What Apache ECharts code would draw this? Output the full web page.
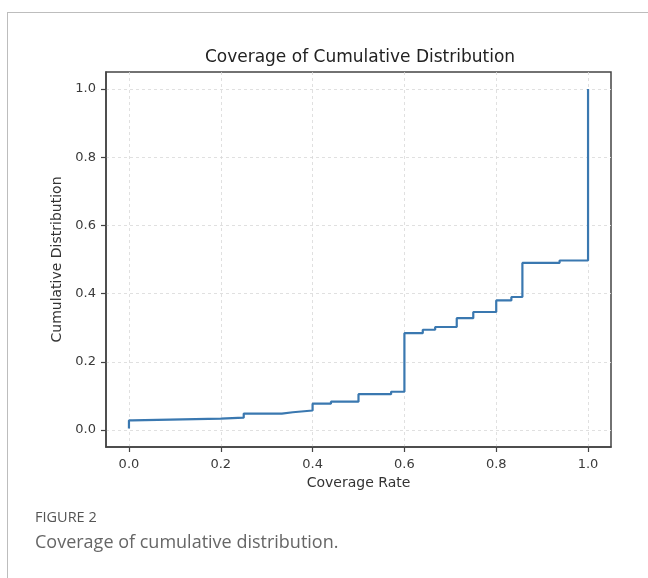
<!DOCTYPE html>
<html>
<head>
<meta charset="utf-8">
<script src="https://cdn.jsdelivr.net/npm/echarts@6/dist/echarts.min.js"></script>
<style>
  html, body { margin: 0; padding: 0; background: #fff; }
  #frame { position: absolute; left: 7px; top: 12px; width: 700px; height: 700px;
           border: 1px solid #bdbdbd; box-sizing: border-box; }
  #chart { position: absolute; left: 0; top: 0; width: 648px; height: 578px; }
  .fig { position: absolute; left: 35px; font-family: "Open Sans", "Noto Sans", sans-serif; color: #555; }
  #figno { top: 507px; font-size: 14.5px; }
  #caption { top: 529px; font-size: 18px; color: #666; }
</style>
</head>
<body>
<div id="frame"></div>
<div id="chart"></div>
<div class="fig" id="figno">FIGURE 2</div>
<div class="fig" id="caption">Coverage of cumulative distribution.</div>
<script>
// step points of the empirical CDF (x = coverage rate, y = cumulative share)
const coverage = [0, 0, 0.007, 0.2, 0.25, 0.333, 0.357, 0.4, 0.44, 0.5, 0.571, 0.6, 0.64, 0.667, 0.714, 0.75, 0.8, 0.833, 0.857, 0.938, 1.0];
const cumulative = [0.004, 0.028, 0.033, 0.036, 0.048, 0.052, 0.057, 0.077, 0.083, 0.105, 0.112, 0.284, 0.294, 0.302, 0.328, 0.346, 0.38, 0.39, 0.49, 0.497, 1.0];
const tickValues = [0, 0.2, 0.4, 0.6, 0.8, 1.0];

const chart = echarts.init(document.getElementById('chart'), null, { renderer: 'canvas' });
const font = 'DejaVu Sans';
const fmt = v => v.toFixed(1);

function axisCommon(name, gap, labelMargin){
  return {
    type: 'value', min: -0.05, max: 1.05,
    name, nameLocation: 'middle', nameGap: gap,
    nameTextStyle: { fontFamily: font, fontSize: 14, color: '#333' },
    axisLine: { show: true, onZero: false, lineStyle: { color: '#444', width: 1.5 } },
    axisTick: { show: true, inside: false, length: 5, customValues: tickValues, lineStyle: { color: '#444', width: 1.2 } },
    axisLabel: { customValues: tickValues, formatter: fmt, fontFamily: font, fontSize: 13, color: '#3a3a3a', margin: labelMargin },
    splitLine: { show: true, lineStyle: { color: '#d8d8d8', width: 0.8, type: [3, 3] } }
  };
}

const option = {
  backgroundColor: 'transparent',
  animation: false,
  title: {
    text: 'Coverage of Cumulative Distribution', left: 355, top: 44, textAlign: 'center',
    textStyle: { fontFamily: font, fontSize: 17, fontWeight: 'normal', color: '#222' }
  },
  grid: { left: 106, right: 37, top: 72, bottom: 131, containLabel: false, show: true, borderColor: '#444', borderWidth: 1.5 },
  xAxis: axisCommon('Coverage Rate', 29, 11),
  yAxis: axisCommon('Cumulative Distribution', 40, 10),
  series: [{
    type: 'line', step: 'end', showSymbol: false,
    data: coverage.map((x, i) => [x, cumulative[i]]),
    lineStyle: { color: '#3a78b0', width: 2.2 },
    itemStyle: { color: '#3a78b0' }
  }]
};
chart.setOption(option);
</script>
</body>
</html>
